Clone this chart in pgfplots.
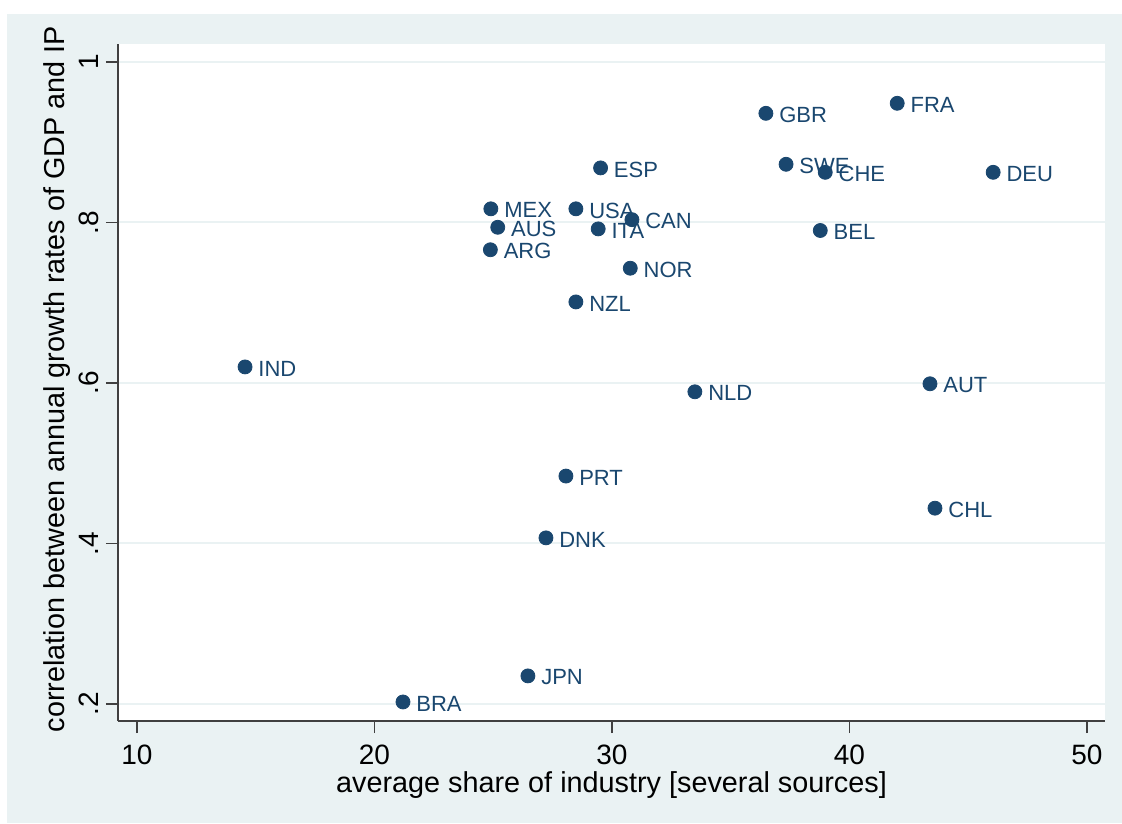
\documentclass[border=0pt]{standalone}
\usepackage{pgfplots}
\pgfplotsset{compat=1.18}
\usepackage{fontspec}
\setmainfont{Liberation Sans}
\definecolor{stnavy}{RGB}{26,71,111}
\definecolor{stbg}{RGB}{234,242,243}
\begin{document}
\begin{tikzpicture}
\fill[white] (0,0) rectangle (561pt,-411.5pt);
\fill[stbg] (3.5pt,-7pt) rectangle (561pt,-411.5pt);
\begin{axis}[
  at={(59pt,-360.5pt)}, anchor=south west,
  scale only axis, width=493.5pt, height=338.5pt,
  xmin=9.2, xmax=50.76, ymin=0.1788, ymax=1.0224,
  axis x line*=bottom, axis y line*=left,
  axis line style={black!75, line width=0.8pt, -},
  axis background/.style={fill=white},
  xtick={10,20,30,40,50},
  ytick={0.2,0.4,0.6,0.8,1},
  yticklabels={.2,.4,.6,.8,1},
  tick align=outside,
  major tick length=6pt,
  tick style={black!75, line width=0.8pt},
  /pgf/number format/assume math mode=true,
  ticklabel style={font=\fontsize{14pt}{16pt}\selectfont},
  xticklabel style={yshift=-2.5pt},
  yticklabel style={rotate=90, anchor=south},
  ymajorgrids, grid style={stbg, line width=1pt},
  xlabel={average share of industry [several sources]},
  ylabel={correlation between annual growth rates of GDP and IP},
  label style={font=\fontsize{14.4pt}{16pt}\selectfont},
  xlabel style={at={(axis description cs:0.5,-0.0945)}, anchor=center},
  ylabel style={at={(axis description cs:-0.0618,0.505)}, anchor=center},
  clip=false,
]
\addplot[only marks, mark=*, mark size=3.5pt, mark options={fill=stnavy, draw=stnavy},
  nodes near coords, point meta=explicit symbolic,
  nodes near coords style={anchor=west, inner sep=0pt, xshift=6.5pt, yshift=-0.8pt, text=stnavy, font=\fontsize{11pt}{13pt}\selectfont},
] table[meta=label] {
x y label
14.55 0.620 IND
21.20 0.2025 BRA
26.46 0.235 JPN
27.22 0.407 DNK
28.06 0.484 PRT
28.48 0.701 NZL
33.49 0.589 NLD
43.39 0.599 AUT
43.60 0.444 CHL
24.90 0.817 MEX
25.19 0.794 AUS
24.88 0.766 ARG
28.48 0.817 USA
29.42 0.792 ITA
30.84 0.8035 CAN
30.77 0.743 NOR
29.52 0.868 ESP
36.48 0.936 GBR
42.01 0.9485 FRA
37.33 0.8725 SWE
38.98 0.8625 CHE
46.05 0.8625 DEU
38.77 0.790 BEL
};
\end{axis}
\pgfresetboundingbox
\path (0,0) rectangle (561pt,-411.5pt);
\end{tikzpicture}
\end{document}
